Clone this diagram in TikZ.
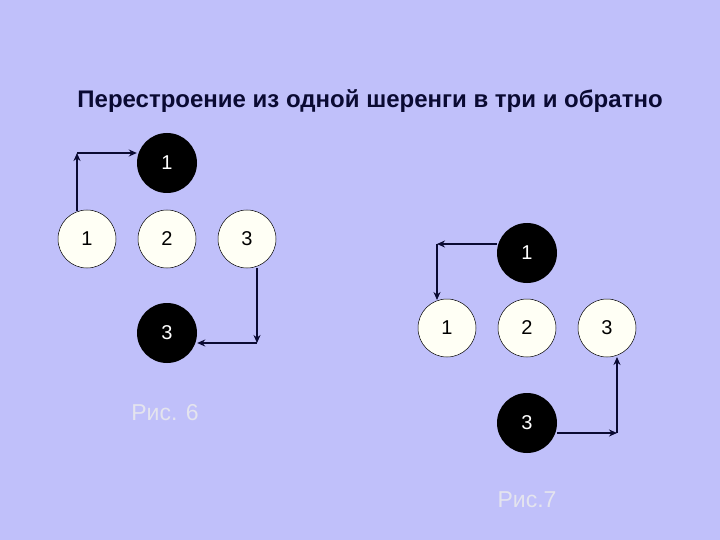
\documentclass[tikz,border=0pt]{standalone}
\usepackage{fontspec}
\setmainfont{Liberation Sans}
\usetikzlibrary{arrows.meta}
\definecolor{bg}{RGB}{192,192,250}
\definecolor{navy}{RGB}{10,10,50}
\definecolor{cap}{RGB}{228,228,238}
\definecolor{offwhite}{RGB}{255,255,245}
\tikzset{
  wc/.style={circle,draw=black,line width=0.5pt,fill=offwhite,minimum size=58pt,inner sep=0pt,font=\fontsize{20}{22}\selectfont},
  bc/.style={circle,fill=black,text=white,minimum size=60pt,inner sep=0pt,font=\fontsize{20}{22}\selectfont},
  arr/.style={draw=navy,line width=2pt,-{Stealth[length=8pt,width=7pt]}},
  captext/.style={text=cap,font=\fontsize{23}{26}\selectfont}
}
\begin{document}
\begin{tikzpicture}[x=1pt,y=-1pt]
\fill[bg] (0,0) rectangle (720,540);
\useasboundingbox (0,0) rectangle (720,540);
\node[font=\bfseries\fontsize{24}{28}\selectfont,text=navy] (title) at (370,101) {Перестроение из одной шеренги в три и обратно};
% left group
\node[bc] (lb1) at (167,163) {1};
\node[wc] (lw1) at (87,239) {1};
\node[wc] (lw2) at (167,239) {2};
\node[wc] (lw3) at (247,239) {3};
\node[bc] (lb3) at (167,333) {3};
\coordinate (lc1) at (77,211);
\coordinate (lk1) at (77,153);
\coordinate (lc3) at (257,268);
\coordinate (lk3) at (257,343);
\draw[arr] (lc1) -- (lk1);
\draw[arr] (lk1) -- (lb1.west |- lk1);
\draw[arr] (lc3) -- (lk3);
\draw[arr] (lk3) -- (lb3.east |- lk3);
\node[captext] (cap6) at (165,413) {Рис. 6};
% right group
\node[bc] (rb1) at (527,253) {1};
\node[wc] (rw1) at (447,328) {1};
\node[wc] (rw2) at (527,328) {2};
\node[wc] (rw3) at (607,328) {3};
\node[bc] (rb3) at (527,423) {3};
\coordinate (rk1) at (437,244);
\coordinate (rc1) at (437,300);
\coordinate (rk3) at (617,433);
\coordinate (rc3) at (617,357);
\draw[arr] (rb1.west |- rk1) -- (rk1);
\draw[arr] (rk1) -- (rc1);
\draw[arr] (rb3.east |- rk3) -- (rk3);
\draw[arr] (rk3) -- (rc3);
\node[captext] (cap7) at (527,500) {Рис.7};
\end{tikzpicture}
\end{document}
